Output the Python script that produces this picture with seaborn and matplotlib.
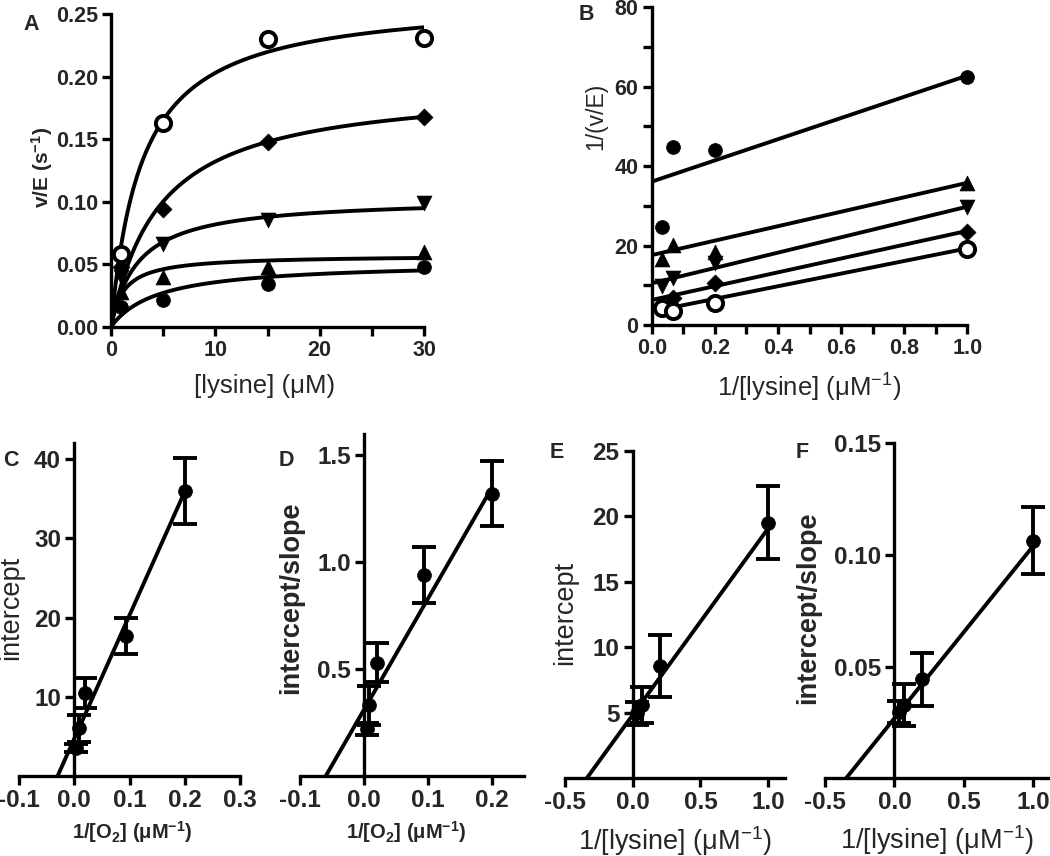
import numpy as np
import pandas as pd
import matplotlib
matplotlib.use("Agg")
import matplotlib.pyplot as plt
import seaborn as sns

sns.set_theme(style="ticks")
plt.rcParams['font.family'] = ['Liberation Sans', 'DejaVu Sans']
plt.rcParams['mathtext.default'] = 'regular'

# ---------------- data ----------------
# Panel A: v/E vs [lysine]
lysine = [1, 5, 15, 30]
A_filled = [0.016, 0.0215, 0.034, 0.048]
A_up = [0.028, 0.040, 0.048, 0.060]
A_down = [0.040, 0.066, 0.085, 0.099]
A_diamond = [0.048, 0.094, 0.148, 0.168]
A_open = [0.058, 0.163, 0.230, 0.231]
# Michaelis-Menten fit parameters (Vmax, Km) per series
A_vmax = [0.0519, 0.0572, 0.103, 0.194, 0.263]
A_km = [4.6, 1.22, 2.6, 4.69, 2.96]

# Panel B: double reciprocal
inv_lysine = [0.033, 0.067, 0.2, 1.0]
B_filled = [24.8, 44.9, 44.1, 62.5]
B_up = [16.6, 20.2, 18.5, 35.8]
B_down = [9.8, 11.8, 15.5, 29.6]
B_diamond = [5.0, 6.8, 10.5, 23.5]
B_open = [4.2, 3.6, 5.6, 19.1]
B_intercept = [36.1, 17.6, 10.5, 6.3, 3.4]
B_slope = [26.7, 18.2, 19.3, 17.4, 15.9]

# Panels C, D: vs 1/[O2]
inv_o2 = [0.004, 0.008, 0.02, 0.093, 0.2]
C_y = [3.5, 6.0, 10.5, 17.7, 36.0]
C_err = [0.5, 1.7, 1.9, 2.3, 4.2]
C_fit = (156.0, 4.7)   # slope, intercept
D_y = [0.22, 0.33, 0.53, 0.94, 1.32]
D_err = [0.03, 0.09, 0.09, 0.13, 0.15]
D_fit = (5.19, 0.31)

# Panels E, F: vs 1/[lysine]
EF_x = [0.033, 0.067, 0.2, 1.0]
E_y = [4.95, 5.6, 8.55, 19.5]
E_err = [0.9, 1.4, 2.35, 2.8]
E_fit = (14.24, 4.84)
F_y = [0.0298, 0.0328, 0.0443, 0.1064]
F_err = [0.005, 0.0095, 0.012, 0.015]
F_fit = (0.0772, 0.0269)

markers = ['o', '^', 'v', 'D', 'o']
faces = ['black', 'black', 'black', 'black', 'white']
sizes = [100, 115, 115, 75, 120]

W, H = 1050, 856
fig = plt.figure(figsize=(W / 100, H / 100), dpi=100)

LW = 2.8
SP = 2.4


def px_axes(left, bottom_px, right, top_px):
    return fig.add_axes([left / W, 1 - bottom_px / H, (right - left) / W, (bottom_px - top_px) / H])


def style(ax, tick_fs):
    for s in ['top', 'right']:
        ax.spines[s].set_visible(False)
    ax.spines['left'].set_position(('data', 0))
    ax.spines['bottom'].set_position(('data', 0))
    for s in ['left', 'bottom']:
        ax.spines[s].set_linewidth(SP)
        ax.spines[s].set_color('black')
    ax.tick_params(which='both', direction='out', width=SP, color='black',
                   labelsize=tick_fs, pad=3)
    ax.tick_params(which='major', length=6.5)
    ax.tick_params(which='minor', length=6.5)
    for lab in ax.get_xticklabels() + ax.get_yticklabels():
        lab.set_fontweight('bold')
    ax.set_facecolor('white')
    ax.grid(False)


# ---------------- Panel A ----------------
axA = px_axes(111, 326.7, 424, 14)
A_series = [A_filled, A_up, A_down, A_diamond, A_open]
xs = np.linspace(0, 30, 300)
for vm, km in zip(A_vmax, A_km):
    sns.lineplot(x=xs, y=vm * xs / (km + xs), ax=axA, color='black', lw=LW, estimator=None, sort=False)
for ys, m, fc, s in zip(A_series, markers, faces, sizes):
    sns.scatterplot(x=lysine, y=ys, ax=axA, marker=m, s=s, color=fc, edgecolor='black',
                    linewidth=2.8 if fc == 'white' else 0.5, zorder=5, clip_on=False)
axA.set_xlim(0, 30)
axA.set_ylim(0, 0.25)
axA.set_xticks([0, 10, 20, 30])
axA.set_xticks([5, 15, 25], minor=True)
axA.set_yticks([0, 0.05, 0.10, 0.15, 0.20, 0.25])
axA.set_yticklabels(['0.00', '0.05', '0.10', '0.15', '0.20', '0.25'])
style(axA, 15.5)
axA.set_xlabel('[lysine] (μM)', fontsize=18.5)
axA.set_ylabel('v/E (s$^{-1}$)', fontsize=15, fontweight='bold')
axA.xaxis.set_label_coords(0.49, -0.19)
axA.xaxis.label.set_va('center')
axA.yaxis.set_label_coords(-0.22, 0.51)
axA.yaxis.label.set_va('center')

# ---------------- Panel B ----------------
axB = px_axes(651.7, 325, 967.3, 7.3)
B_series = [B_filled, B_up, B_down, B_diamond, B_open]
xl = np.array([0.0, 1.0])
for b, m in zip(B_intercept, B_slope):
    sns.lineplot(x=xl, y=b + m * xl, ax=axB, color='black', lw=LW, estimator=None, sort=False)
for ys, mk, fc, s in zip(B_series, markers, faces, sizes):
    sns.scatterplot(x=inv_lysine, y=ys, ax=axB, marker=mk, s=s, color=fc, edgecolor='black',
                    linewidth=2.8 if fc == 'white' else 0.5, zorder=5, clip_on=False)
axB.set_xlim(0, 1.0)
axB.set_ylim(0, 80)
axB.set_xticks([0, 0.2, 0.4, 0.6, 0.8, 1.0])
axB.set_xticklabels(['0.0', '0.2', '0.4', '0.6', '0.8', '1.0'])
axB.set_xticks([0.1, 0.3, 0.5, 0.7, 0.9], minor=True)
axB.set_yticks([0, 20, 40, 60, 80])
axB.set_yticks([10, 30, 50, 70], minor=True)
style(axB, 15.5)
axB.set_xlabel('1/[lysine] (μM$^{-1}$)', fontsize=18.5)
axB.set_ylabel('1/(v/E)', fontsize=16.5)
axB.xaxis.set_label_coords(0.5, -0.198)
axB.xaxis.label.set_va('center')
axB.yaxis.set_label_coords(-0.1765, 0.658)
axB.yaxis.label.set_va('center')


# ---------------- Panels C-F ----------------
def sec_panel(rect, xlim, ylim, x, y, err, fit, xticks, xtl, yticks, ytl,
              xlabel, xl_bold, xl_fs, ylabel, yl_bold, yl_fs, xl_pos, yl_pos):
    ax = px_axes(*rect)
    slope, icpt = fit
    x0 = -icpt / slope
    xf = np.array([x0, max(x)])
    sns.lineplot(x=xf, y=icpt + slope * xf, ax=ax, color='black', lw=LW, estimator=None, sort=False)
    ax.errorbar(x, y, yerr=err, fmt='none', ecolor='black', elinewidth=2.8,
                capsize=8.5, capthick=2.8, zorder=4)
    sns.scatterplot(x=x, y=y, ax=ax, marker='o', s=100, color='black', edgecolor='black',
                    linewidth=0.5, zorder=5)
    ax.set_xlim(*xlim)
    ax.set_ylim(*ylim)
    ax.set_xticks(xticks)
    ax.set_xticklabels(xtl)
    ax.set_yticks(yticks)
    ax.set_yticklabels(ytl)
    style(ax, 17.5)
    ax.set_xlabel(xlabel, fontsize=xl_fs, fontweight='bold' if xl_bold else 'normal')
    ax.set_ylabel(ylabel, fontsize=yl_fs, fontweight='bold' if yl_bold else 'normal')
    ax.xaxis.set_label_coords(*xl_pos)
    ax.xaxis.label.set_va('center')
    ax.yaxis.set_label_coords(*yl_pos)
    ax.yaxis.label.set_va('center')
    return ax


sec_panel((19, 776, 240, 443.3), (-0.1, 0.3), (0, 42), inv_o2, C_y, C_err, C_fit,
          [-0.1, 0, 0.1, 0.2, 0.3], ['-0.1', '0.0', '0.1', '0.2', '0.3'],
          [10, 20, 30, 40], ['10', '20', '30', '40'],
          '1/[O$_2$] (μM$^{-1}$)', True, 14.5, 'intercept', False, 19.5,
          (0.511, -0.168), (-0.036, 0.505))

sec_panel((300, 776, 524, 433.6), (-0.1, 0.25), (0, 1.6), inv_o2, D_y, D_err, D_fit,
          [-0.1, 0, 0.1, 0.2], ['-0.1', '0.0', '0.1', '0.2'],
          [0.5, 1.0, 1.5], ['0.5', '1.0', '1.5'],
          '1/[O$_2$] (μM$^{-1}$)', True, 14.5, 'intercept/slope', True, 19.5,
          (0.476, -0.164), (-0.040, 0.52))

sec_panel((565, 778.3, 784.5, 450.7), (-0.5, 1.12), (0, 25), EF_x, E_y, E_err, E_fit,
          [-0.5, 0, 0.5, 1.0], ['-0.5', '0.0', '0.5', '1.0'],
          [5, 10, 15, 20, 25], ['5', '10', '15', '20', '25'],
          '1/[lysine] (μM$^{-1}$)', False, 19.5, 'intercept', False, 19.5,
          (0.499, -0.191), (0.0, 0.505))

sec_panel((825, 778.3, 1050, 443.3), (-0.5, 1.12), (0, 0.15), EF_x, F_y, F_err, F_fit,
          [-0.5, 0, 0.5, 1.0], ['-0.5', '0.0', '0.5', '1.0'],
          [0.05, 0.10, 0.15], ['0.05', '0.10', '0.15'],
          '1/[lysine] (μM$^{-1}$)', False, 19.5, 'intercept/slope', True, 19.5,
          (0.496, -0.184), (-0.0756, 0.508))

# panel letters
for lab, (px, py) in zip('ABCDEF', [(31, 24), (586, 14), (11, 460), (286, 460), (557, 453), (802, 452)]):
    fig.text(px / W, 1 - py / H, lab, fontsize=15.5, fontweight='bold', ha='center', va='center')

fig.savefig('out.png', dpi=100, facecolor='white')
